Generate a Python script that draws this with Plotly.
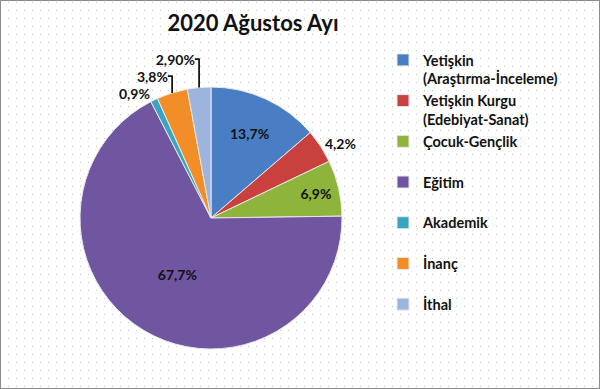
import plotly.graph_objects as go

categories = ["Yetişkin<br>(Araştırma-İnceleme)", "Yetişkin Kurgu<br>(Edebiyat-Sanat)",
              "Çocuk-Gençlik<br> ", "Eğitim<br> ", "Akademik<br> ", "İnanç<br> ", "İthal<br> "]
values = [13.7, 4.2, 6.9, 67.7, 0.9, 3.8, 2.9]
value_labels = ["13,7%", "4,2%", "6,9%", "67,7%", "0,9%", "3,8%", "2,90%"]
colors = ["#4A7EC4", "#C9413F", "#8FB43C", "#7055A0", "#3AA5C0", "#F28E27", "#9DB4DF"]
positions = ["inside", "outside", "inside", "inside", "outside", "outside", "outside"]

W, H = 600, 389
cx, cy, r = 211, 218, 131

fig = go.Figure()
# empty cartesian trace to host the dotted background grid
fig.add_trace(go.Scatter(x=[], y=[], showlegend=False, hoverinfo="skip"))
fig.add_trace(go.Pie(
    labels=[f"<b>{c}</b>" for c in categories], values=values, text=value_labels,
    texttemplate="<b>%{text}</b>",
    textposition=positions, sort=False, direction="clockwise", rotation=0,
    marker=dict(colors=colors, line=dict(color="#e8e8e8", width=1)),
    textfont=dict(family="Lato", size=14, color="#111111"),
    insidetextorientation="horizontal",
    domain=dict(x=[(cx - r) / W, (cx + r) / W], y=[1 - (cy + r) / H, 1 - (cy - r) / H]),
))

fig.update_layout(
    width=W, height=H,
    margin=dict(l=0, r=0, t=0, b=0),
    paper_bgcolor="white", plot_bgcolor="white",
    font=dict(family="Lato", color="#111111"),
    title=dict(text="<b>2020 Ağustos Ayı</b>", x=253 / W, xanchor="center",
               y=1 - 23 / H, yanchor="middle", font=dict(size=22, family="Lato")),
    xaxis=dict(range=[0, W], showgrid=False, zeroline=False, showticklabels=False,
               fixedrange=True, showline=False, ticks=""),
    yaxis=dict(range=[0, H], dtick=8, tick0=3, showgrid=True, gridcolor="#c4c4c4",
               gridwidth=1, griddash="1px,7px", zeroline=False, showticklabels=False,
               fixedrange=True, showline=False, ticks=""),
    legend=dict(x=383 / W, xanchor="left", y=1 - 44 / H, yanchor="top",
                font=dict(family="Lato", size=14.5, color="#111111"),
                valign="top", bgcolor="rgba(0,0,0,0)", traceorder="normal"),
    shapes=[dict(type="rect", xref="paper", yref="paper", x0=0, y0=0, x1=1, y1=1,
                 line=dict(color="#8c8c8c", width=2))],
)

fig.write_html("out.html")
